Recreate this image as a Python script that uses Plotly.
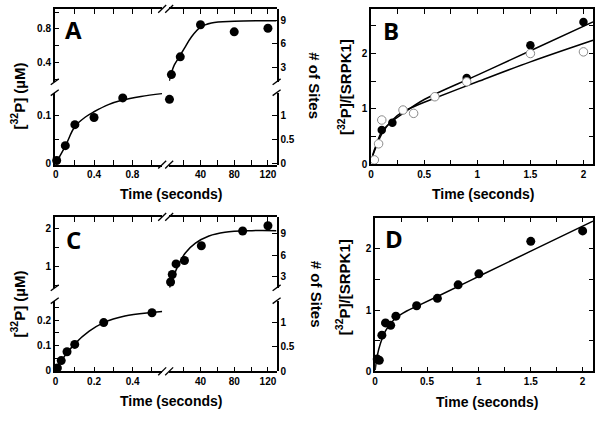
import plotly.graph_objects as go

W, H = 600, 421

# ---------------- DATA ----------------
# Panel A : burst phase (left/lower) and slow phase (right/upper)
a_fast_t = [0.01, 0.1, 0.2, 0.4, 0.7]
a_fast_p = [0.006, 0.037, 0.081, 0.096, 0.137]
a_slow_t = [5.5, 16, 40, 80, 120]
a_slow_p = [0.254, 0.466, 0.85, 0.765, 0.807]
a_extra_t = [3.2]
a_extra_p = [0.134]
a_fitfast_t = [0, 0.1, 0.2, 0.31, 0.4, 0.55, 0.69, 0.89, 1.11]
a_fitfast_p = [0, 0.036, 0.077, 0.097, 0.108, 0.123, 0.132, 0.14, 0.146]
a_fitslow_t = [3, 6, 9, 15, 21, 29, 40, 53, 80, 130]
a_fitslow_p = [0.18, 0.29, 0.37, 0.47, 0.57, 0.70, 0.82, 0.87, 0.89, 0.898]

# Panel B
b_fill_t = [0.1, 0.2, 0.9, 1.5, 2.0]
b_fill_r = [0.62, 0.75, 1.56, 2.15, 2.57]
b_open_t = [0.03, 0.07, 0.1, 0.3, 0.4, 0.6, 0.9, 1.5, 2.0]
b_open_r = [0.08, 0.37, 0.8, 0.98, 0.92, 1.22, 1.49, 2.0, 2.03]
b_fit1_t = [0, 0.02, 0.05, 0.1, 0.2, 0.3, 0.5, 1.0, 1.5, 2.09]
b_fit1_r = [0.03, 0.2, 0.36, 0.59, 0.78, 0.92, 1.17, 1.61, 2.05, 2.57]
b_fit2_t = [0, 0.02, 0.05, 0.1, 0.2, 0.3, 0.4, 0.5, 1.0, 1.5, 2.09]
b_fit2_r = [0.05, 0.18, 0.33, 0.55, 0.8, 0.95, 1.04, 1.12, 1.49, 1.85, 2.24]

# Panel C
c_fast_t = [0.01, 0.03, 0.06, 0.1, 0.25, 0.5]
c_fast_p = [0.011, 0.04, 0.075, 0.104, 0.19, 0.229]
c_slow_t = [4.5, 6.5, 11, 21, 41, 90, 120]
c_slow_p = [0.58, 0.78, 1.06, 1.15, 1.54, 1.93, 2.07]
c_fitfast_t = [0, 0.033, 0.1, 0.175, 0.25, 0.36, 0.5, 0.553]
c_fitfast_p = [0.005, 0.043, 0.106, 0.156, 0.19, 0.216, 0.23, 0.234]
c_fitslow_t = [3.2, 12.3, 22, 34, 50, 69, 101, 130]
c_fitslow_p = [0.43, 0.96, 1.35, 1.61, 1.80, 1.90, 1.94, 1.94]

# Panel D
d_t = [0.02, 0.04, 0.065, 0.1, 0.15, 0.2, 0.4, 0.6, 0.8, 1.0, 1.5, 2.0]
d_r = [0.2, 0.18, 0.59, 0.79, 0.75, 0.9, 1.07, 1.19, 1.41, 1.59, 2.12, 2.29]
d_fit_t = [0, 0.02, 0.05, 0.1, 0.15, 0.2, 0.3, 0.4, 0.6, 1.0, 1.5, 2.1]
d_fit_r = [0.02, 0.25, 0.45, 0.66, 0.78, 0.87, 0.98, 1.06, 1.22, 1.55, 1.96, 2.45]

time_title = "Time (seconds)"
conc_title = "[<sup>32</sup>P] (µM)"
sites_title = "# of Sites"
ratio_title = "[<sup>32</sup>P]/[SRPK1]"
panel_letters = ["A", "B", "C", "D"]

# ---------------- helpers ----------------
def PX(px):
    return px / W

def PY(py):
    return 1 - py / H

tickfont = dict(family="Liberation Sans", size=10, color="black", weight="bold")

def ax(**kw):
    d = dict(showline=True, linecolor="black", linewidth=1.5, ticks="inside", ticklen=5,
             tickwidth=1.2, tickcolor="black", showgrid=False, zeroline=False,
             tickfont=tickfont, fixedrange=True, tickmode="linear", tick0=0)
    d.update(kw)
    return d

def minor(dt):
    return dict(dtick=dt, tick0=0, ticks="inside", ticklen=5, tickwidth=1.2,
                tickcolor="black", showgrid=False)

fig = go.Figure()
layout = {}
shapes = []

def slash(cx, cy, dx=4, dy=4):
    return dict(type="line", xref="paper", yref="paper",
                x0=PX(cx - dx), y0=PY(cy + dy), x1=PX(cx + dx), y1=PY(cy - dy),
                line=dict(color="black", width=1.3))

def broken_panel(base, top, bot, xl, xr, yu, yl, rxl, rxr, ryl, ryu, rsl, rsu,
                 dxl, mxl, dxr, mxr, dyl, myl, dyu, myu, dsl, dsu):
    i = [base + k for k in range(4)]
    xn = ["x" if n == 1 else f"x{n}" for n in i]
    yn = ["y" if n == 1 else f"y{n}" for n in i]
    xk = ["xaxis" if n == 1 else f"xaxis{n}" for n in i]
    yk = ["yaxis" if n == 1 else f"yaxis{n}" for n in i]
    dom_xl = [PX(xl[0]), PX(xl[1])]
    dom_xr = [PX(xr[0]), PX(xr[1])]
    dom_yl = [PY(bot), PY(yl)]
    dom_yu = [PY(yu), PY(top)]
    layout[xk[0]] = ax(domain=dom_xl, anchor=yn[0], range=rxl, dtick=dxl, minor=minor(mxl))
    layout[xk[1]] = ax(domain=dom_xr, anchor=yn[0], range=rxr, dtick=dxr, minor=minor(mxr))
    layout[xk[2]] = ax(domain=dom_xl, anchor=yn[1], side="top", range=rxl, dtick=dxl,
                       minor=minor(mxl), showticklabels=False)
    layout[xk[3]] = ax(domain=dom_xr, anchor=yn[1], side="top", range=rxr, dtick=dxr,
                       minor=minor(mxr), showticklabels=False)
    layout[yk[0]] = ax(domain=dom_yl, anchor=xn[0], range=ryl, dtick=dyl, minor=minor(myl))
    layout[yk[1]] = ax(domain=dom_yu, anchor=xn[0], range=ryu, dtick=dyu, minor=minor(myu))
    layout[yk[2]] = ax(domain=dom_yl, anchor=xn[1], side="right", range=rsl, dtick=dsl)
    layout[yk[3]] = ax(domain=dom_yu, anchor=xn[1], side="right", range=rsu, dtick=dsu)
    for (xa, ya) in [(xn[2], yn[1]), (xn[3], yn[1]), (xn[1], yn[2]), (xn[1], yn[3]), (xn[1], yn[1])]:
        fig.add_trace(go.Scatter(x=[None], y=[None], xaxis=xa, yaxis=ya, mode="markers",
                                 showlegend=False, hoverinfo="skip"))
    for cy in (top, bot):
        shapes.append(slash(xl[1], cy))
        shapes.append(slash(xr[0], cy))
    for cx in (xl[0], xr[1]):
        shapes.append(slash(cx, yu, 4, 3))
        shapes.append(slash(cx, yl, 4, 3))
    return xn, yn

line_style = dict(color="black", width=1.5)
fill_marker = dict(color="black", size=9)

# ---- Panel A ----
xa, ya = broken_panel(1, 9, 167, (52, 160), (167, 275), 83, 94,
                      [-0.0104, 1.112], [2.83, 130.3], [-0.0027, 0.148], [0.168, 1.039],
                      [-0.027, 1.463], [1.15, 10.48],
                      0.4, 0.2, 40, 20, 0.1, 0.05, 0.4, 0.2, 0.5, 3)
fig.add_trace(go.Scatter(x=a_fitfast_t, y=a_fitfast_p, mode="lines", line=line_style,
                         line_shape="spline", xaxis=xa[0], yaxis=ya[0]))
fig.add_trace(go.Scatter(x=a_fast_t, y=a_fast_p, mode="markers", marker=fill_marker,
                         cliponaxis=False, xaxis=xa[0], yaxis=ya[0]))
fig.add_trace(go.Scatter(x=a_fitslow_t, y=a_fitslow_p, mode="lines", line=line_style,
                         line_shape="spline", xaxis=xa[1], yaxis=ya[1]))
fig.add_trace(go.Scatter(x=a_slow_t, y=a_slow_p, mode="markers", marker=fill_marker,
                         cliponaxis=False, xaxis=xa[1], yaxis=ya[1]))
fig.add_trace(go.Scatter(x=a_extra_t, y=a_extra_p, mode="markers", marker=fill_marker,
                         cliponaxis=False, xaxis=xa[1], yaxis=ya[0]))

# ---- Panel C ----
xc, yc = broken_panel(5, 220, 376.7, (52, 160), (167, 275), 292, 305,
                      [-0.0036, 0.553], [2.83, 130.3], [-0.0023, 0.2765], [0.426, 2.305],
                      [0, 1.434], [1.46, 11.28],
                      0.2, 0.1, 40, 20, 0.1, 0.05, 1, 0.5, 0.5, 3)
fig.add_trace(go.Scatter(x=c_fitfast_t, y=c_fitfast_p, mode="lines", line=line_style,
                         line_shape="spline", xaxis=xc[0], yaxis=yc[0]))
fig.add_trace(go.Scatter(x=c_fast_t, y=c_fast_p, mode="markers", marker=fill_marker,
                         cliponaxis=False, xaxis=xc[0], yaxis=yc[0]))
fig.add_trace(go.Scatter(x=c_fitslow_t, y=c_fitslow_p, mode="lines", line=line_style,
                         line_shape="spline", xaxis=xc[1], yaxis=yc[1]))
fig.add_trace(go.Scatter(x=c_slow_t, y=c_slow_p, mode="markers", marker=fill_marker,
                         cliponaxis=False, xaxis=xc[1], yaxis=yc[1]))

# ---- Panel B ----
layout["xaxis9"] = ax(domain=[PX(370), PX(593.3)], anchor="y9", range=[0, 2.093], dtick=0.5,
                      minor=minor(0.25), mirror="ticks")
layout["yaxis9"] = ax(domain=[PY(166.7), PY(9)], anchor="x9", range=[0, 2.806], dtick=1,
                      minor=minor(0.5), mirror="ticks")
fig.add_trace(go.Scatter(x=b_fit1_t, y=b_fit1_r, mode="lines", line=line_style,
                         line_shape="spline", xaxis="x9", yaxis="y9"))
fig.add_trace(go.Scatter(x=b_fit2_t, y=b_fit2_r, mode="lines", line=line_style,
                         line_shape="spline", xaxis="x9", yaxis="y9"))
fig.add_trace(go.Scatter(x=b_fill_t, y=b_fill_r, mode="markers",
                         marker=dict(color="black", size=8.5), cliponaxis=False,
                         xaxis="x9", yaxis="y9"))
fig.add_trace(go.Scatter(x=b_open_t, y=b_open_r, mode="markers",
                         marker=dict(color="white", size=8.5, line=dict(color="#8a8a8a", width=1)),
                         cliponaxis=False, xaxis="x9", yaxis="y9"))

# ---- Panel D ----
layout["xaxis10"] = ax(domain=[PX(374), PX(593.3)], anchor="y10", range=[0, 2.103], dtick=0.5,
                       minor=minor(0.25), mirror="ticks")
layout["yaxis10"] = ax(domain=[PY(376.7), PY(220.7)], anchor="x10", range=[0, 2.508], dtick=1,
                       minor=minor(0.5), mirror="ticks")
fig.add_trace(go.Scatter(x=d_fit_t, y=d_fit_r, mode="lines", line=line_style,
                         line_shape="spline", xaxis="x10", yaxis="y10"))
fig.add_trace(go.Scatter(x=d_t, y=d_r, mode="markers", marker=dict(color="black", size=9),
                         cliponaxis=False, xaxis="x10", yaxis="y10"))

# ---------------- annotations ----------------
ann = []
def text(s, px, py, size=14, angle=0, family="Liberation Sans"):
    ann.append(dict(text=s, x=PX(px), y=PY(py), xref="paper", yref="paper",
                    xanchor="center", yanchor="middle", showarrow=False, textangle=angle,
                    font=dict(family=family, size=size, color="black", weight="bold")))

for (px, py) in [(169, 196.7), (482.5, 196.7), (169, 406.7), (486.7, 408.3)]:
    text(time_title, px, py, 14)
text(conc_title, 15, 97, 15, -90)
text(conc_title, 15, 308, 15, -90)
text(sites_title, 313, 87, 15, 90)
text(sites_title, 315, 298.5, 15, 90)
text(ratio_title, 343, 88, 15, -90)
text(ratio_title, 342, 291, 15, -90)
for L, (px, py) in zip(panel_letters, [(70.5, 30), (390, 31), (70.8, 242.5), (392.5, 241.5)]):
    text(L, px, py, 24, 0, "Open Sans")

fig.update_layout(width=W, height=H, margin=dict(l=0, r=0, t=0, b=0),
                  paper_bgcolor="white", plot_bgcolor="rgba(0,0,0,0)",
                  showlegend=False, annotations=ann, shapes=shapes, **layout)

fig.write_html("out.html", config={"displayModeBar": False},
               post_script="document.body.style.margin='0';document.body.style.overflow='hidden';")
